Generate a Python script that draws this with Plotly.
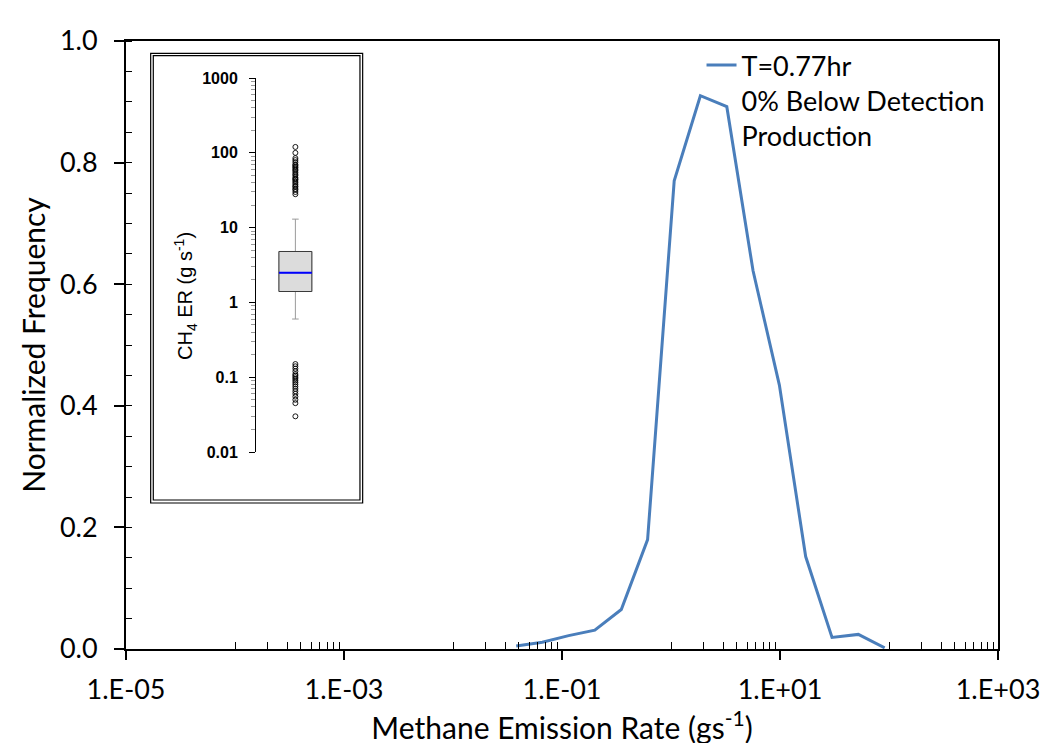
import plotly.graph_objects as go

# ---------------- data ----------------
emission_rate = [0.038, 0.066, 0.115, 0.20, 0.35, 0.61, 1.07, 1.86, 3.25, 5.66, 9.87,
                 17.2, 30.0, 52.3, 91.2]
norm_freq = [0.005, 0.011, 0.022, 0.031, 0.065, 0.180, 0.770, 0.910, 0.892, 0.622,
             0.434, 0.152, 0.019, 0.024, 0.002]
series_name = "T=0.77hr<br>0% Below Detection<br>Production"

x_tickvals = [1e-5, 1e-3, 1e-1, 1e1, 1e3]
x_ticktext = ["1.E-05", "1.E-03", "1.E-01", "1.E+01", "1.E+03"]
y_tickvals = [0.0, 0.2, 0.4, 0.6, 0.8, 1.0]
y_ticktext = ["0.0", "0.2", "0.4", "0.6", "0.8", "1.0"]

# inset box-plot statistics (g s-1)
box_q1 = 1.4
box_median = 2.5
box_q3 = 4.8
box_low = 0.6
box_high = 13.0
outliers_high = [28, 30, 32, 33, 35, 36, 38, 40, 42, 44, 45, 47, 50, 52, 55, 58, 60,
                 63, 65, 68, 70, 75, 80, 85, 100, 120]
outliers_low = [0.03, 0.045, 0.05, 0.055, 0.06, 0.065, 0.07, 0.075, 0.08, 0.085, 0.09,
                0.095, 0.1, 0.105, 0.11, 0.12, 0.13, 0.14, 0.15]
inset_tickvals = [0.01, 0.1, 1, 10, 100, 1000]
inset_ticktext = ["0.01", "0.1", "1", "10", "100", "1000"]
inset_title = "CH<sub>4</sub> ER (g s<sup>-1</sup>)"

# ---------------- styling ----------------
FONT = "Lato"
LINE_COLOR = "#4a7ebb"
BOX_WIDTH = 0.835

x_minor = [k * 10 ** n for n in (-4, -2, 0, 2) for k in range(1, 10)]
y_minor = [i * 0.05 for i in range(21)]
inset_minor = [k * 10 ** n for n in (-2, -1, 0, 1, 2) for k in range(2, 10)]

fig = go.Figure()

fig.add_trace(go.Scatter(
    x=emission_rate, y=norm_freq, mode="lines", name=series_name,
    line=dict(color=LINE_COLOR, width=3), xaxis="x", yaxis="y",
))

# inset: whiskers (grey) + box (dark outline)
fig.add_trace(go.Box(
    x=[0], q1=[box_q1], median=[box_median], q3=[box_q3],
    lowerfence=[box_low], upperfence=[box_high], width=BOX_WIDTH,
    whiskerwidth=0.2, fillcolor="#dcdcdc", line=dict(color="#9a9a9a", width=1),
    boxpoints=False, xaxis="x2", yaxis="y2", showlegend=False, hoverinfo="skip",
))
fig.add_trace(go.Box(
    x=[0], q1=[box_q1], median=[box_median], q3=[box_q3],
    lowerfence=[box_q1], upperfence=[box_q3], width=BOX_WIDTH,
    whiskerwidth=0, fillcolor="#dcdcdc", line=dict(color="#3a3a3a", width=1),
    boxpoints=False, xaxis="x2", yaxis="y2", showlegend=False, hoverinfo="skip",
))
half = BOX_WIDTH / 2
fig.add_trace(go.Scatter(
    x=[-half, half], y=[box_median, box_median], mode="lines",
    line=dict(color="#0000ff", width=2), xaxis="x2", yaxis="y2",
    showlegend=False, hoverinfo="skip",
))
outs = outliers_high + outliers_low
fig.add_trace(go.Scatter(
    x=[0] * len(outs), y=outs, mode="markers",
    marker=dict(symbol="circle-open", size=5, color="black", line=dict(width=0.9)),
    xaxis="x2", yaxis="y2", showlegend=False, hoverinfo="skip",
))

tick_font = dict(family=FONT, size=27, color="black")

fig.update_layout(
    width=1050, height=743,
    margin=dict(l=118, r=60, t=33, b=102),
    paper_bgcolor="white", plot_bgcolor="white",
    font=dict(family=FONT, color="black"),
    xaxis=dict(
        type="log", range=[-5, 3], tickvals=x_tickvals, ticktext=x_ticktext,
        ticks="outside", ticklen=9, tickwidth=1.5, tickcolor="black",
        showline=True, linecolor="black", linewidth=2, mirror=True,
        showgrid=False, zeroline=False, tickfont=tick_font, ticklabelstandoff=7,
        minor=dict(tickvals=x_minor, ticks="inside", ticklen=7, tickwidth=1.2,
                   tickcolor="black", showgrid=False),
        title=dict(text="Methane Emission Rate (gs<sup>-1</sup>)",
                   font=dict(family=FONT, size=30, color="black"), standoff=0),
    ),
    xaxis3=dict(
        type="log", range=[-5, 3], overlaying="x", anchor="y", tickvals=x_tickvals,
        ticks="inside", ticklen=7, tickwidth=1.5, tickcolor="black",
        showticklabels=False, showgrid=False, showline=False, zeroline=False,
    ),
    yaxis=dict(
        range=[0, 1], tickvals=y_tickvals, ticktext=y_ticktext,
        ticks="outside", ticklen=10, tickwidth=1.5, tickcolor="black",
        showline=True, linecolor="black", linewidth=2, mirror=True,
        showgrid=False, zeroline=False, tickfont=tick_font, ticklabelstandoff=11,
        minor=dict(tickvals=y_minor, ticks="inside", ticklen=6, tickwidth=1.2,
                   tickcolor="black", showgrid=False),
        title=dict(text="Normalized Frequency",
                   font=dict(family=FONT, size=30, color="black"), standoff=5),
    ),
    yaxis3=dict(
        range=[0, 1], overlaying="y", anchor="x", tickvals=y_tickvals,
        ticks="inside", ticklen=6, tickwidth=1.5, tickcolor="black",
        showticklabels=False, showgrid=False, showline=False, zeroline=False,
    ),
    xaxis2=dict(domain=[0.1491, 0.2394], range=[-1, 1], anchor="y2", visible=False),
    yaxis2=dict(
        domain=[0.324, 0.939], type="log", range=[-2, 3], anchor="x2",
        tickvals=inset_tickvals, ticktext=inset_ticktext,
        ticks="outside", ticklen=6, tickwidth=1, tickcolor="black",
        showline=True, linecolor="black", linewidth=1, showgrid=False, zeroline=False,
        tickfont=dict(family="Liberation Sans", size=16, color="black", weight="bold"),
        ticklabelstandoff=8,
        minor=dict(tickvals=inset_minor, ticks="outside", ticklen=4, tickwidth=1,
                   tickcolor="#999999", showgrid=False),
    ),
    legend=dict(
        x=0.660, y=1.0, xanchor="left", yanchor="top", valign="top",
        bgcolor="rgba(0,0,0,0)", font=dict(family=FONT, size=27, color="black"),
    ),
    showlegend=True,
    annotations=[
        dict(text=inset_title, xref="paper", yref="paper",
             x=(185 - 126) / 872, y=(649 - 296) / 608, textangle=-90,
             showarrow=False, xanchor="center", yanchor="middle",
             font=dict(family="Liberation Sans", size=20, color="black")),
    ],
    shapes=[
        dict(type="rect", xref="paper", yref="paper", x0=0.0283, x1=0.2714,
             y0=0.2401, y1=0.9798, line=dict(color="black", width=1.2)),
        dict(type="rect", xref="paper", yref="paper", x0=0.0313, x1=0.2683,
             y0=0.2451, y1=0.9758, line=dict(color="black", width=1.2)),
        dict(type="rect", xref="paper", yref="paper", x0=-0.1388, x1=1.0550,
             y0=-0.17, y1=1.0592, line=dict(color="#d9d9d9", width=1.5)),
    ],
)

fig.write_html("out.html")
